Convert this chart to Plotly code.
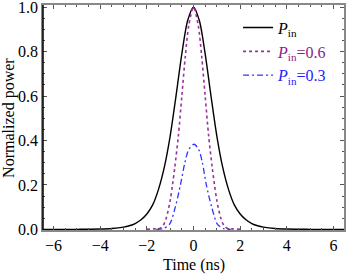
import plotly.graph_objects as go

# Black: P_in (input pulse)
t_in = [-6.45, -5.0, -4.5, -4.0, -3.5, -3.0, -2.75, -2.5, -2.25, -2.0, -1.75, -1.5, -1.25, -1.0, -0.75, -0.5, -0.25, 0.0,
        0.25, 0.5, 0.75, 1.0, 1.25, 1.5, 1.75, 2.0, 2.25, 2.5, 2.75, 3.0, 3.5, 4.0, 4.5, 5.0, 6.45]
p_in = [0.0, 0.0, 0.0005, 0.0013, 0.0036, 0.0098, 0.016, 0.026, 0.043, 0.069, 0.11, 0.18, 0.28, 0.42, 0.60, 0.79, 0.94, 1.0,
        0.94, 0.79, 0.60, 0.42, 0.28, 0.18, 0.11, 0.069, 0.043, 0.026, 0.016, 0.0098, 0.0036, 0.0013, 0.0005, 0.0, 0.0]

# Purple dotted: P_in = 0.6
t_06 = [-2.0, -1.7, -1.45, -1.3, -1.17, -1.0, -0.9, -0.8, -0.65, -0.5, -0.35, -0.2, 0.0,
        0.2, 0.35, 0.5, 0.65, 0.8, 0.9, 1.0, 1.17, 1.3, 1.45, 1.7, 2.0]
p_06 = [0.0, 0.002, 0.004, 0.018, 0.05, 0.13, 0.2, 0.28, 0.42, 0.60, 0.78, 0.92, 1.0,
        0.92, 0.78, 0.60, 0.42, 0.28, 0.2, 0.13, 0.05, 0.018, 0.004, 0.002, 0.0]

# Blue dash-dot: P_in = 0.3
t_03 = [-1.6, -1.3, -1.03, -0.78, -0.56, -0.37, -0.2, 0.03, 0.22, 0.38, 0.55, 0.78, 1.03, 1.3, 1.6]
p_03 = [0.0, 0.003, 0.022, 0.10, 0.20, 0.30, 0.36, 0.383, 0.36, 0.30, 0.20, 0.10, 0.022, 0.003, 0.0]

x_ticks = [-6, -4, -2, 0, 2, 4, 6]
x_labels = ["\u22126", "\u22124", "\u22122", "0", "2", "4", "6"]
y_ticks = [0.0, 0.2, 0.4, 0.6, 0.8, 1.0]
y_labels = ["0.0", "0.2", "0.4", "0.6", "0.8", "1.0"]

purple = "#993399"
blue = "#3333ff"
FONT = "Liberation Serif"
TICKFONT = dict(family=FONT, size=16, color="black")

fig = go.Figure()
fig.add_trace(go.Scatter(x=t_in, y=p_in, mode="lines", line=dict(color="black", width=1.4, shape="spline", smoothing=0.8),
                         name="<i>P</i><sub>in</sub>"))
fig.add_trace(go.Scatter(x=t_06, y=p_06, mode="lines", line=dict(color=purple, width=1.6, dash="dot", shape="spline", smoothing=0.8),
                         name="<span style='color:#8b1a8b'><i>P</i><sub>in</sub>=0.6</span>"))
fig.add_trace(go.Scatter(x=t_03, y=p_03, mode="lines", line=dict(color=blue, width=1.3, dash="6px,3px,2px,3px", shape="spline", smoothing=0.8),
                         name="<span style='color:#2222ff'><i>P</i><sub>in</sub>=0.3</span>"))

axis_common = dict(showgrid=False, zeroline=False, ticks="inside", mirror="allticks", showline=True,
                   linecolor="#888888", linewidth=1.5, tickcolor="#555555", tickwidth=1, ticklen=4,
                   automargin=False, ticklabeloverflow="allow")

fig.update_xaxes(range=[-6.45, 6.45], tickmode="array", tickvals=x_ticks, ticktext=x_labels, tickfont=TICKFONT,
                 minor=dict(dtick=0.5, tick0=0, ticks="inside", ticklen=2, tickcolor="#555555"),
                 **axis_common)
fig.update_yaxes(range=[-0.003, 1.01], tickmode="array", tickvals=y_ticks, ticktext=y_labels, tickfont=TICKFONT,
                 minor=dict(dtick=0.05, tick0=0, ticks="inside", ticklen=2, tickcolor="#555555"),
                 **axis_common)

fig.add_shape(type="line", xref="x domain", yref="y domain", x0=0, x1=0, y0=0, y1=1,
              line=dict(color="black", width=1.5))

fig.add_annotation(text="Time (ns)", xref="paper", yref="paper", x=0.5, y=-0.108, xanchor="center", yanchor="top",
                   showarrow=False, font=dict(family=FONT, size=16, color="black"))
fig.add_annotation(text="Normalized power", xref="paper", yref="paper", x=-0.115, y=0.5, xanchor="center", yanchor="middle",
                   textangle=-90, showarrow=False, font=dict(family=FONT, size=16, color="black"))

fig.update_layout(
    width=346, height=274,
    margin=dict(l=43, r=2, t=5, b=44),
    font=dict(family=FONT, size=16, color="black"),
    paper_bgcolor="white", plot_bgcolor="white",
    showlegend=True,
    legend=dict(x=0.648, y=0.975, xanchor="left", yanchor="top", bgcolor="rgba(0,0,0,0)",
                font=dict(family=FONT, size=16, color="black"), itemwidth=30, tracegroupgap=0),
)

fig.write_html("out.html", config={"displayModeBar": False},
               post_script="document.body.style.margin='0';document.body.style.padding='0';")
